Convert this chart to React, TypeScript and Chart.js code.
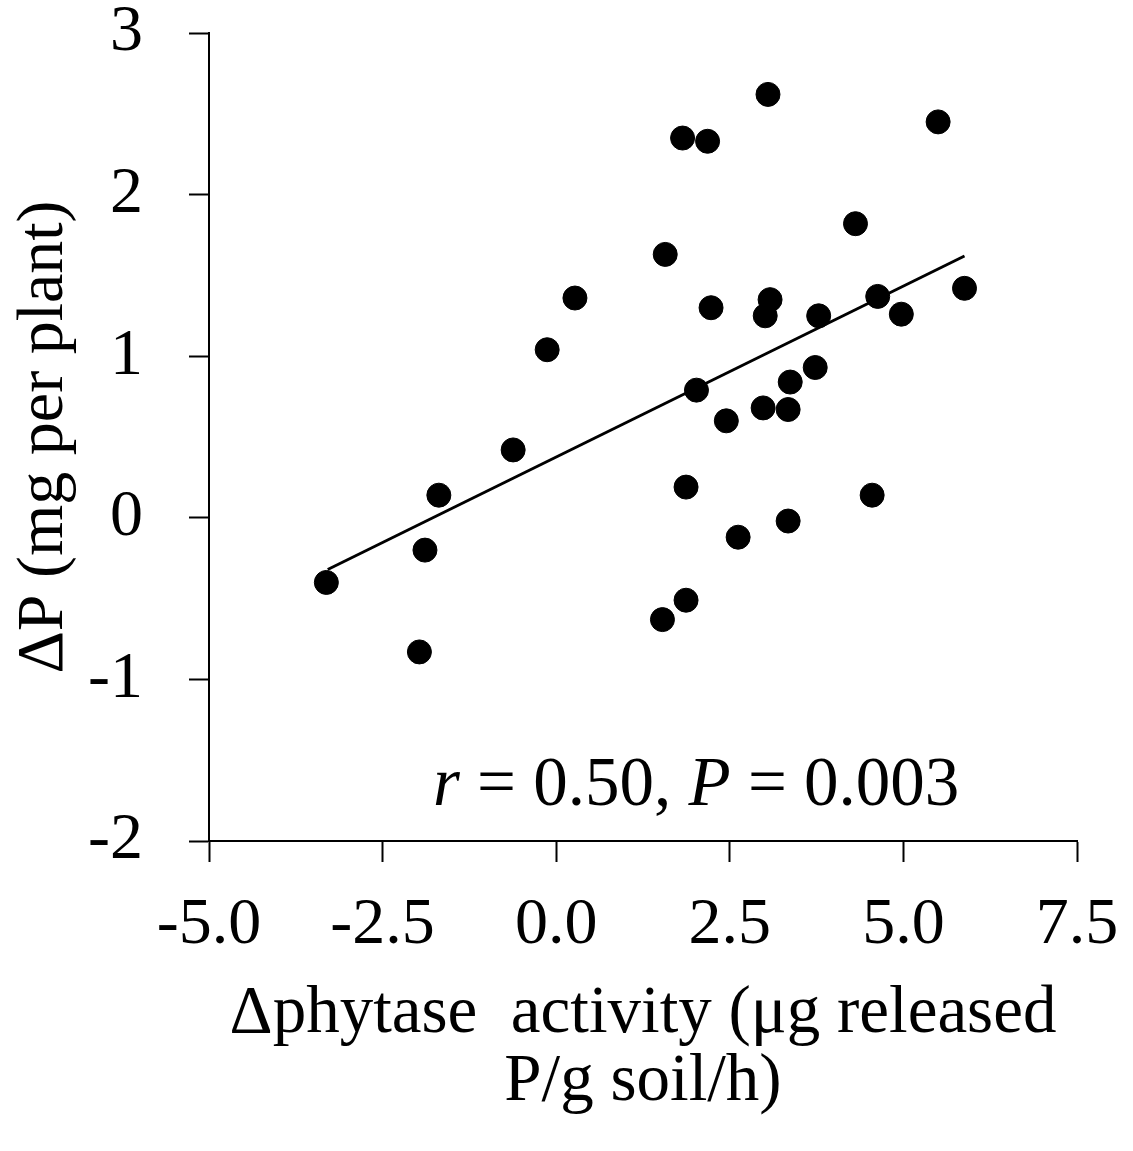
import React, { useEffect, useRef } from "react";
import { Chart, registerables } from "chart.js";

Chart.register(...registerables);

// Δphytase activity (x) and ΔP (y) for each sample
const phytaseActivity = [
  -3.31, -1.97, -1.89, -1.69, -0.62, -0.13, 0.27, 1.53, 1.57, 1.82, 1.87, 1.87,
  2.02, 2.18, 2.23, 2.45, 2.62, 2.98, 3.01, 3.05, 3.08, 3.34, 3.37, 3.34, 3.73,
  3.78, 4.31, 4.55, 4.63, 4.97, 5.5, 5.88,
];
const deltaP = [
  -0.4, -0.83, -0.2, 0.14, 0.42, 1.04, 1.36, -0.63, 1.63, 2.35, -0.51, 0.19,
  0.79, 2.33, 1.3, 0.6, -0.12, 0.68, 1.25, 2.62, 1.35, 0.67, 0.84, -0.02, 0.93,
  1.25, 1.82, 0.14, 1.37, 1.26, 2.45, 1.42,
];

// regression line end points
const trendX = [-3.29, 5.88];
const trendY = [-0.32, 1.62];

const xTicks = [-5, -2.5, 0, 2.5, 5, 7.5];
const yTicks = [-2, -1, 0, 1, 2, 3];

const xTitle = ["\u0394phytase  activity (\u03bcg released", "P/g soil/h)"];
const yTitle = "\u0394P (mg per plant)";
const statText = [
  { t: "r", italic: true },
  { t: " = 0.50, ", italic: false },
  { t: "P", italic: true },
  { t: " = 0.003", italic: false },
];

const FONT = '"Liberation Serif", "Times New Roman", serif';

const statPlugin = {
  id: "statText",
  afterDatasetsDraw(chart: any) {
    const { ctx, chartArea } = chart;
    ctx.save();
    let x = chartArea.left + 224;
    const y = chartArea.bottom - 36;
    ctx.fillStyle = "#000";
    ctx.textBaseline = "alphabetic";
    ctx.textAlign = "left";
    for (const seg of statText) {
      ctx.font = `${seg.italic ? "italic " : ""}69px ${FONT}`;
      ctx.fillText(seg.t, x, y);
      x += ctx.measureText(seg.t).width;
    }
    ctx.restore();
  },
};

export default function App() {
  const ref = useRef<HTMLCanvasElement>(null);

  useEffect(() => {
    if (!ref.current) return;
    const points = phytaseActivity.map((x, i) => ({ x, y: deltaP[i] }));
    const trend = trendX.map((x, i) => ({ x, y: trendY[i] }));

    const chart = new Chart(ref.current, {
      type: "scatter",
      data: {
        datasets: [
          {
            type: "line",
            data: trend,
            borderColor: "#000",
            borderWidth: 3,
            pointRadius: 0,
            fill: false,
            order: 1,
          } as any,
          {
            data: points,
            backgroundColor: "#000",
            borderColor: "#000",
            borderWidth: 1,
            pointRadius: 12,
            order: 0,
          },
        ],
      },
      options: {
        responsive: false,
        animation: false,
        layout: { padding: { left: 0, top: 33, right: 56, bottom: 0 } },
        plugins: {
          legend: { display: false },
          tooltip: { enabled: false },
        },
        scales: {
          x: {
            type: "linear",
            min: -5,
            max: 7.5,
            afterBuildTicks: (s: any) => {
              s.ticks = xTicks.map((v) => ({ value: v }));
            },
            afterFit: (s: any) => {
              s.height = 310;
              s.paddingLeft = 0;
              s.paddingRight = 0;
            },
            ticks: {
              callback: (v: any) => Number(v).toFixed(1),
              font: { family: FONT, size: 66, lineHeight: 1 },
              color: "#000",
              padding: 31,
              maxRotation: 0,
              autoSkip: false,
            },
            grid: {
              drawOnChartArea: false,
              drawTicks: true,
              tickLength: 21,
              tickWidth: 2,
              tickColor: "#000",
            },
            border: { display: true, color: "#000", width: 2 },
            title: {
              display: true,
              text: xTitle,
              font: { family: FONT, size: 67, lineHeight: 1.02 },
              color: "#000",
              padding: { top: 0, bottom: 34 },
            },
          },
          y: {
            type: "linear",
            min: -2,
            max: 3,
            afterBuildTicks: (s: any) => {
              s.ticks = yTicks.map((v) => ({ value: v }));
            },
            afterFit: (s: any) => {
              s.width = 209;
              s.paddingTop = 0;
              s.paddingBottom = 0;
            },
            ticks: {
              callback: (v: any) => String(v),
              font: { family: FONT, size: 66, lineHeight: 1 },
              color: "#000",
              padding: 46,
              autoSkip: false,
            },
            grid: {
              drawOnChartArea: false,
              drawTicks: true,
              tickLength: 20,
              tickWidth: 2,
              tickColor: "#000",
            },
            border: { display: true, color: "#000", width: 2 },
            title: {
              display: true,
              text: yTitle,
              font: { family: FONT, size: 66, lineHeight: 1.2 },
              color: "#000",
              padding: { top: 5, bottom: 0 },
            },
          },
        },
      },
      plugins: [statPlugin],
    });
    return () => chart.destroy();
  }, []);

  return (
    <div style={{ position: "absolute", left: 0, top: 0, width: 1133, height: 1151, background: "#fff" }}>
      <canvas ref={ref} width={1133} height={1151} style={{ display: "block" }} />
    </div>
  );
}
